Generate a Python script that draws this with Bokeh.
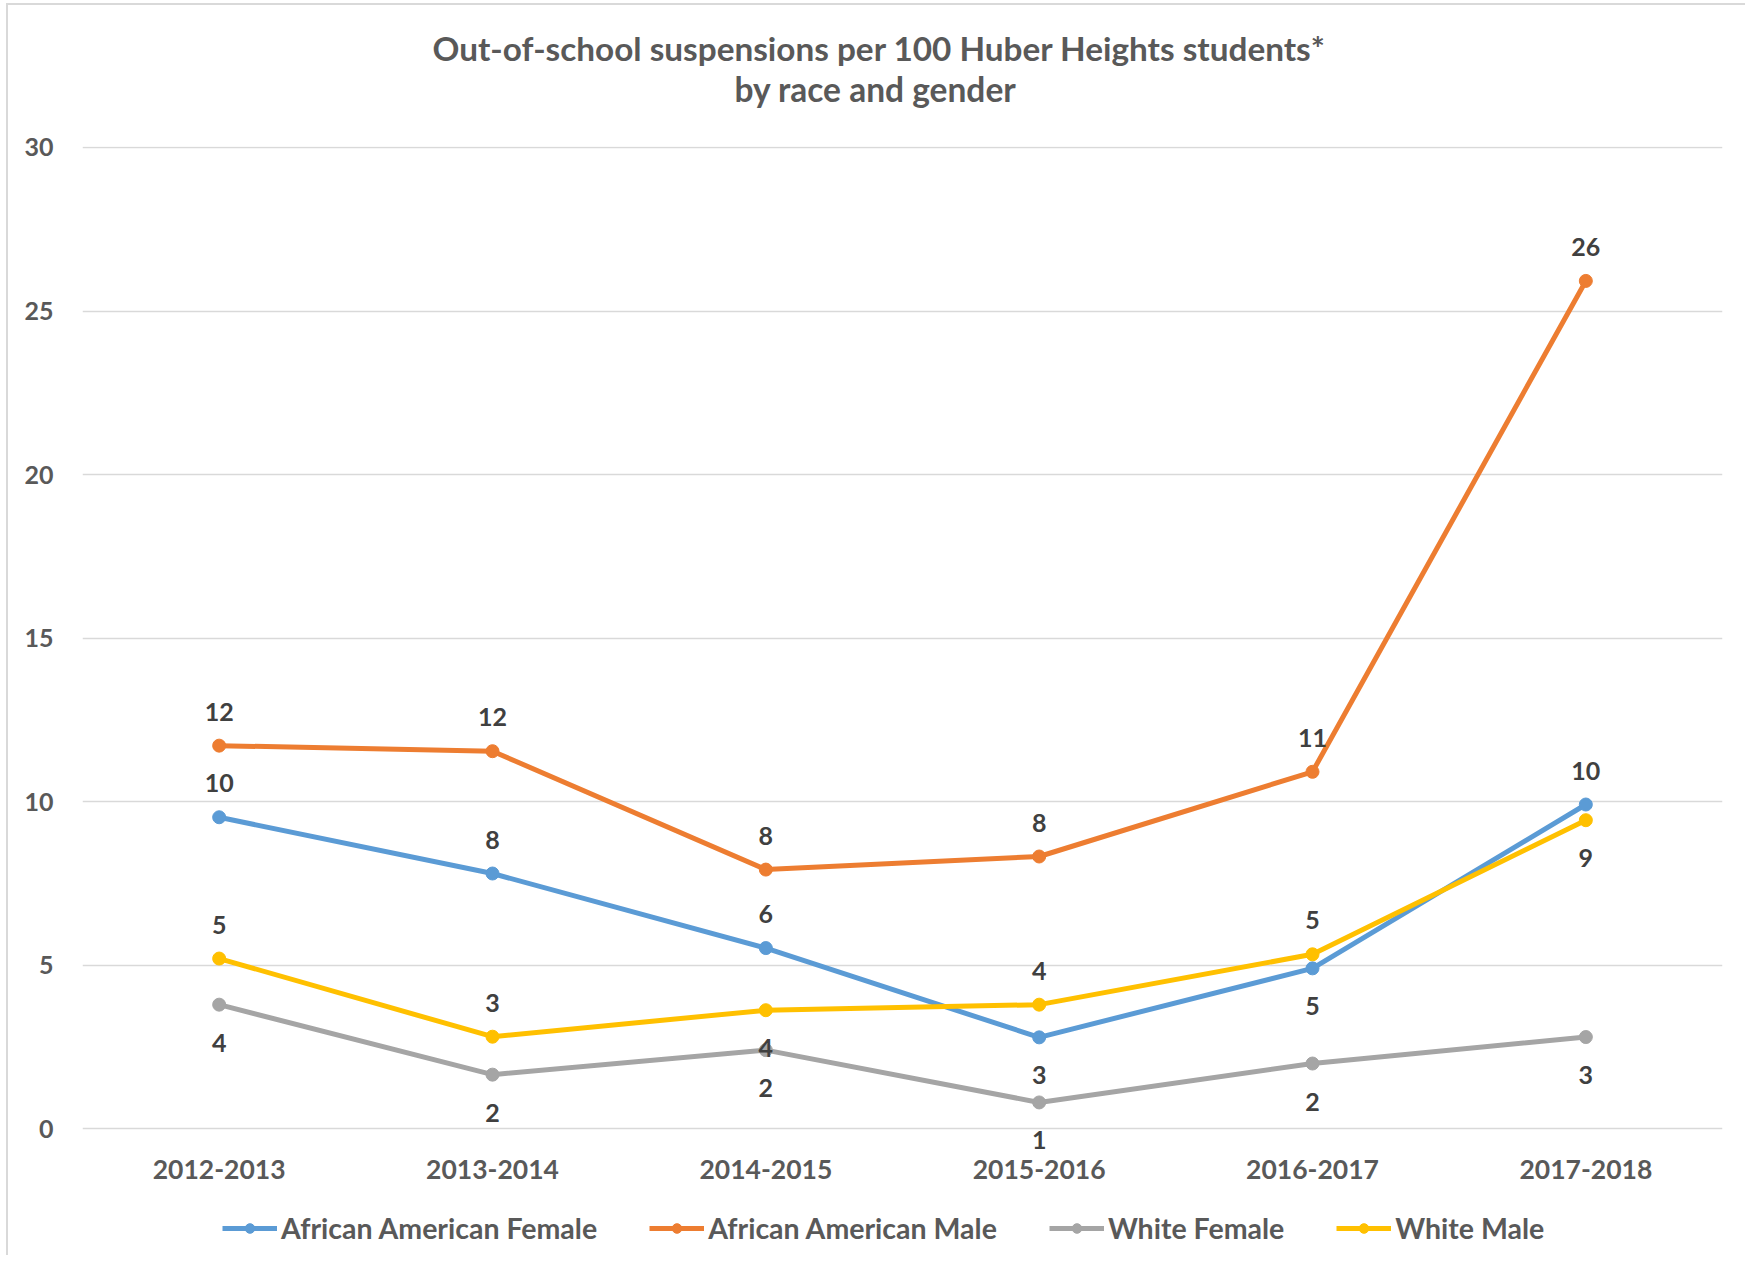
from bokeh.plotting import figure
from bokeh.layouts import column
from bokeh.models import (FactorRange, Range1d, FixedTicker, Legend, LegendItem,
                          ColumnDataSource, LabelSet, Title)
from bokeh.core.properties import value
from bokeh.embed import file_html
from bokeh.resources import INLINE

years = ["2012-2013", "2013-2014", "2014-2015", "2015-2016", "2016-2017", "2017-2018"]
series_names = ["African American Female", "African American Male", "White Female", "White Male"]
aa_female = [9.52, 7.80, 5.52, 2.79, 4.90, 9.91]
aa_male = [11.71, 11.54, 7.92, 8.32, 10.91, 25.92]
white_female = [3.79, 1.65, 2.40, 0.80, 1.99, 2.80]
white_male = [5.20, 2.81, 3.62, 3.79, 5.33, 9.43]
y_ticks = [0, 5, 10, 15, 20, 25, 30]
title_lines = ["Out-of-school suspensions per 100 Huber Heights students*", "by race and gender"]

# label placement (above / below the point)
pos_aa_female = ["above", "above", "above", "below", "below", "above"]
pos_aa_male = ["above"] * 6
pos_white_female = ["below"] * 6
pos_white_male = ["above", "above", "below", "above", "above", "below"]

colors = ["#5B9BD5", "#ED7D31", "#A5A5A5", "#FFC000"]
FONT = "Lato"
TXT = "#595959"
LBL = "#404040"

W = 1737
HP, HL = 1196, 54
FL, FR, FT, FB = 74, 1714, 141, 1146

p = figure(x_range=FactorRange(factors=years, range_padding=0),
           y_range=Range1d(-0.7, 30.03),
           width=W, height=HP, output_backend="svg", toolbar_location=None,
           min_border_left=FL, min_border_right=W - FR,
           min_border_top=FT, min_border_bottom=HP - FB)
p.outline_line_color = None
p.background_fill_color = "white"
p.border_fill_color = "white"

# title: two lines, each positioned on its own
p.add_layout(Title(text=" ", text_font_size="32px", standoff=0), "above")
p.add_layout(Title(text=title_lines[1], align="left", offset=652, text_font=FONT,
                   text_font_style="bold", text_font_size="33.5px",
                   text_color=TXT, standoff=0), "above")
p.title.text = title_lines[0]
p.title.align = "left"
p.title.offset = 350
p.title.text_font = FONT
p.title.text_font_style = "bold"
p.title.text_font_size = "33.3px"
p.title.text_color = TXT
p.title.standoff = -3

p.xgrid.grid_line_color = None
p.ygrid.grid_line_color = "#d9d9d9"
p.ygrid.grid_line_width = 1.5

p.yaxis.ticker = FixedTicker(ticks=y_ticks)
p.yaxis.axis_line_color = None
p.yaxis.major_tick_line_color = None
p.yaxis.minor_tick_line_color = None
p.yaxis.major_tick_out = 0
p.yaxis.major_tick_in = 0
p.yaxis.major_label_standoff = 29
p.yaxis.major_label_text_font = FONT
p.yaxis.major_label_text_font_style = "bold"
p.yaxis.major_label_text_font_size = "25px"
p.yaxis.major_label_text_color = TXT

p.xaxis.axis_line_color = None
p.xaxis.major_tick_line_color = None
p.xaxis.minor_tick_line_color = None
p.xaxis.major_tick_out = 0
p.xaxis.major_tick_in = 0
p.xaxis.major_label_standoff = 8
p.xaxis.major_label_text_font = FONT
p.xaxis.major_label_text_font_style = "bold"
p.xaxis.major_label_text_font_size = "26.5px"
p.xaxis.major_label_text_color = TXT

# legend strip (separate figure below the chart; its frame lines up with the chart's)
lf = figure(x_range=FactorRange(factors=years), y_range=Range1d(100, 101),
            width=W, height=HL, output_backend="svg", toolbar_location=None,
            x_axis_type=None, y_axis_type=None,
            min_border_left=FL, min_border_right=W - FR, min_border_top=0, min_border_bottom=0)
lf.outline_line_color = None
lf.grid.grid_line_color = None

all_vals = [aa_female, aa_male, white_female, white_male]
all_pos = [pos_aa_female, pos_aa_male, pos_white_female, pos_white_male]
items = []
for name, vals, pos, col in zip(series_names, all_vals, all_pos, colors):
    labels = [str(int(v + 0.5)) for v in vals]
    offs = [34 if q == "above" else -38 for q in pos]
    src = ColumnDataSource(dict(x=years, y=vals, label=labels, yoff=offs))
    p.line("x", "y", source=src, line_color=col, line_width=5)
    p.scatter("x", "y", source=src, size=13, fill_color=col, line_color=col)
    p.add_layout(LabelSet(x="x", y="y", text="label", y_offset="yoff", source=src,
                          text_font=value(FONT), text_font_style="bold",
                          text_font_size="25px", text_color=LBL,
                          text_align="center", text_baseline="middle"))
    lr = lf.line("x", "y", source=src, line_color=col, line_width=5)
    sr = lf.scatter("x", "y", source=src, size=13, fill_color=col, line_color=col)
    items.append(LegendItem(label=name, renderers=[lr, sr]))

legend = Legend(items=items, orientation="horizontal", location=(140, 10),
                label_text_font=FONT, label_text_font_style="bold",
                label_text_font_size="28.5px", label_text_color=TXT,
                glyph_width=55, glyph_height=24, label_standoff=4, spacing=52,
                padding=0, margin=0, border_line_color=None,
                background_fill_alpha=0)
lf.add_layout(legend, "center")

layout = column(p, lf, spacing=0,
                styles={"margin-left": "6px", "margin-top": "3px",
                        "border-left": "2px solid #d9d9d9",
                        "border-top": "2px solid #d9d9d9"})

open("out.html", "w").write(file_html(layout, INLINE))
